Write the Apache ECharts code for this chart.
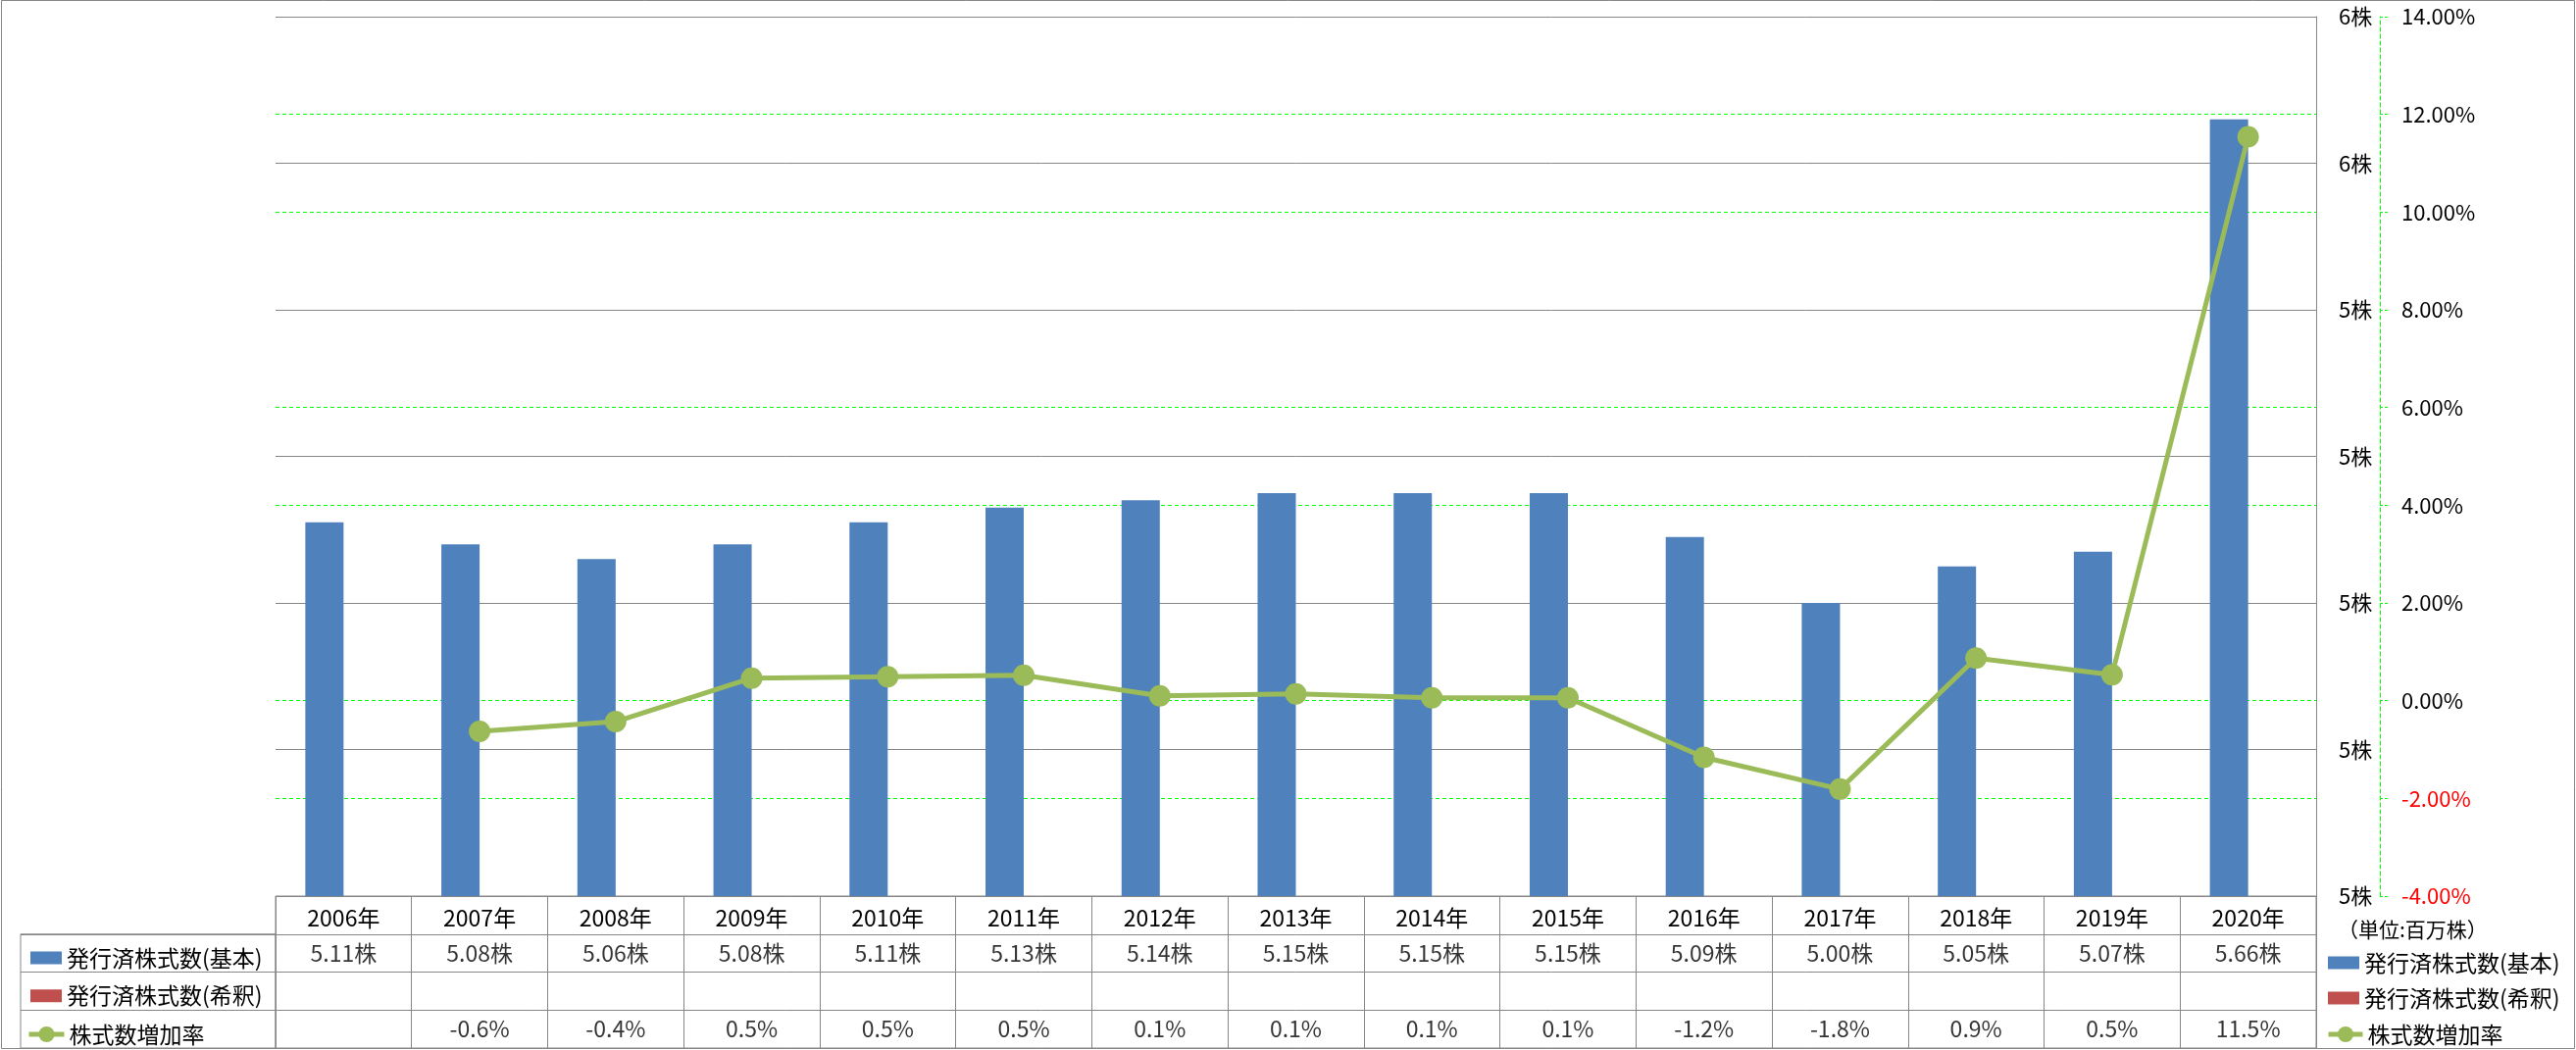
<!DOCTYPE html>
<html>
<head>
<meta charset="utf-8">
<script src="https://cdn.jsdelivr.net/npm/echarts@6/dist/echarts.min.js"></script>
<style>
html,body{margin:0;padding:0;background:#fff;}
#chart{width:2627px;height:1071px;}
</style>
</head>
<body>
<div id="chart"></div>
<script>
// ---- data ----
const years = ['2006年','2007年','2008年','2009年','2010年','2011年','2012年','2013年','2014年','2015年','2016年','2017年','2018年','2019年','2020年'];
const basicShares = [5.11, 5.08, 5.06, 5.08, 5.11, 5.13, 5.14, 5.15, 5.15, 5.15, 5.09, 5.00, 5.05, 5.07, 5.66];
const dilutedShares = [null, null, null, null, null, null, null, null, null, null, null, null, null, null, null];
const growthRate = [null, -0.63, -0.43, 0.46, 0.49, 0.52, 0.10, 0.14, 0.06, 0.06, -1.16, -1.81, 0.87, 0.53, 11.54];
const seriesNames = ['発行済株式数(基本)', '発行済株式数(希釈)', '株式数増加率'];
const unitLabel = '（単位:百万株）';
const tableRows = ['header', 'basic', 'diluted', 'rate'];

// ---- styles ----
const FONT = 'Noto Sans CJK JP';
const GRAY = '#878787';
const GREEN_DASH = '#00FF00';
const BLUE = '#4F81BD', RED = '#C0504D', GREEN = '#9BBB59';

// table cell texts built from the data
const cellData = [];
basicShares.forEach((v, i) => { if (v != null) cellData.push([i, 1, v.toFixed(2) + '株']); });
dilutedShares.forEach((v, i) => { if (v != null) cellData.push([i, 2, v.toFixed(2) + '株']); });
growthRate.forEach((v, i) => { if (v != null) cellData.push([i, 3, v.toFixed(1) + '%']); });

const legendText = { fontFamily: FONT, fontSize: 23, lineHeight: 26, color: '#000' };
const lineLegendItem = { name: seriesNames[2],
  itemStyle: { color: GREEN }, lineStyle: { color: GREEN, width: 5 } };

const chart = echarts.init(document.getElementById('chart'));
const option = {
  animation: false,
  textStyle: { fontFamily: FONT, color: '#000' },
  title: {
    text: unitLabel, left: 2379, top: 930,
    textStyle: { fontFamily: FONT, fontSize: 21, fontWeight: 'normal', color: '#000', lineHeight: 26 }
  },
  graphic: [{
    type: 'rect', silent: true, z: 100,
    shape: { x: 1.5, y: 0.5, width: 2624, height: 1069 },
    style: { fill: 'none', stroke: GRAY, lineWidth: 1 }
  }],
  legend: [
    { data: [{name: seriesNames[0], icon: 'rect'}, {name: seriesNames[1], icon: 'rect'}], orient: 'vertical', left: 26, top: 959,
      itemWidth: 32, itemHeight: 13, itemGap: 12.75, selectedMode: false, textStyle: legendText },
    { data: [lineLegendItem], orient: 'vertical', left: 22, top: 1037,
      itemWidth: 36, itemHeight: 20, selectedMode: false, textStyle: legendText },
    { data: [{name: seriesNames[0], icon: 'rect'}, {name: seriesNames[1], icon: 'rect'}], orient: 'vertical', left: 2369, top: 964,
      itemWidth: 32, itemHeight: 13, itemGap: 10, selectedMode: false, textStyle: legendText },
    { data: [lineLegendItem], orient: 'vertical', left: 2367, top: 1037,
      itemWidth: 35, itemHeight: 20, selectedMode: false, textStyle: legendText }
  ],
  grid: [
    { left: 281, right: 265, top: 17, height: 897 },
    { left: 281, right: 265, top: 914, height: 155, show: true, borderColor: GRAY, borderWidth: 1 },
    { left: 21, width: 260, top: 952.75, height: 116.25, show: true, borderColor: GRAY, borderWidth: 1 }
  ],
  xAxis: [
    { type: 'category', gridIndex: 0, data: years, boundaryGap: true,
      axisLine: { show: false }, axisTick: { show: false },
      axisLabel: { interval: 0, margin: 11, fontSize: 23, color: '#000', fontFamily: FONT } },
    { type: 'category', gridIndex: 1, data: years, boundaryGap: true,
      axisLine: { show: false }, axisTick: { show: false }, axisLabel: { show: false },
      splitLine: { show: true, lineStyle: { color: GRAY, width: 1 } } },
    { type: 'value', gridIndex: 2, show: false, min: 0, max: 1 }
  ],
  yAxis: [
    { type: 'value', gridIndex: 0, position: 'right', min: 4.6, max: 5.8, interval: 0.2, z: 1,
      axisLine: { show: true, lineStyle: { color: GRAY, width: 1 } }, axisTick: { show: false },
      axisLabel: { margin: 23, fontSize: 22, color: '#000', fontFamily: FONT,
        formatter: v => v.toFixed(0) + '株' },
      splitLine: { show: true, lineStyle: { color: GRAY, width: 1 } } },
    { type: 'value', gridIndex: 0, position: 'right', offset: 65, min: -4, max: 14, interval: 2, z: 0,
      axisLine: { show: true, lineStyle: { color: GREEN_DASH, width: 1, type: [4, 3] } },
      axisTick: { show: true, inside: false, length: 8, lineStyle: { color: GREEN_DASH, width: 1, type: [3, 2] } },
      axisLabel: { margin: 22, fontSize: 22, fontFamily: FONT,
        color: v => (v < 0 ? '#FF0000' : '#000'),
        formatter: v => v.toFixed(2) + '%' },
      splitLine: { show: true, lineStyle: { color: GREEN_DASH, width: 1, type: [4, 3] } } },
    { type: 'category', gridIndex: 1, data: tableRows, inverse: true,
      axisLine: { show: false }, axisTick: { show: false }, axisLabel: { show: false },
      splitLine: { show: true, lineStyle: { color: GRAY, width: 1 } } },
    { type: 'category', gridIndex: 2, data: tableRows.slice(1), inverse: true,
      axisLine: { show: false }, axisTick: { show: false }, axisLabel: { show: false },
      splitLine: { show: true, lineStyle: { color: GRAY, width: 1 } } }
  ],
  series: [
    { name: seriesNames[0], type: 'bar', xAxisIndex: 0, yAxisIndex: 0, data: basicShares,
      barWidth: 39, barGap: '0%', itemStyle: { color: BLUE } },
    { name: seriesNames[1], type: 'bar', xAxisIndex: 0, yAxisIndex: 0, data: dilutedShares,
      barWidth: 39, barGap: '0%', itemStyle: { color: RED } },
    { name: seriesNames[2], type: 'line', xAxisIndex: 0, yAxisIndex: 1, data: growthRate,
      symbol: 'circle', symbolSize: 22, connectNulls: false,
      lineStyle: { color: GREEN, width: 5 }, itemStyle: { color: GREEN } },
    { name: 'table', type: 'scatter', xAxisIndex: 1, yAxisIndex: 2, data: cellData,
      symbolSize: 0, silent: true,
      label: { show: true, position: 'inside', fontSize: 23, color: '#000', fontFamily: FONT,
        formatter: p => p.data[2] } }
  ]
};
chart.setOption(option);
</script>
</body>
</html>
